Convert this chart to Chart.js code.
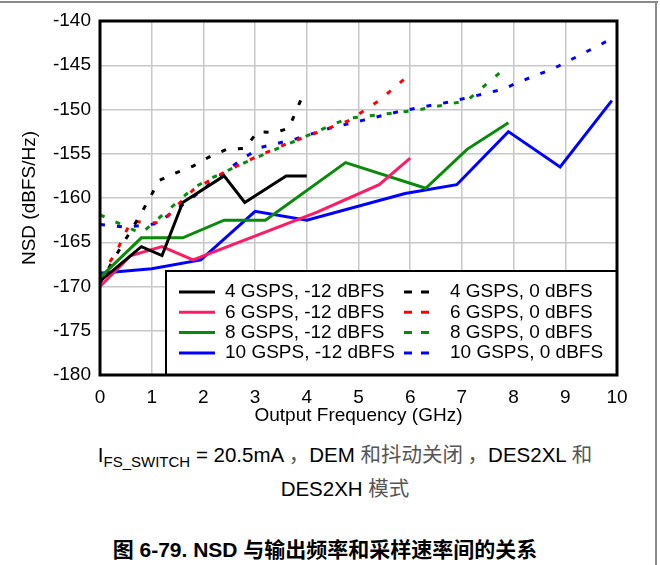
<!DOCTYPE html>
<html>
<head>
<meta charset="utf-8">
<script src="https://cdn.jsdelivr.net/npm/chart.js@4/dist/chart.umd.min.js"></script>
<style>
body { margin:0; background:#fff; width:660px; height:565px; overflow:hidden; position:relative; font-family: Arial, "Liberation Sans", sans-serif; }
#chart1 { position:absolute; left:0; top:0; }
.edge-top { position:absolute; left:0; top:1px; width:658px; height:2px; background:#8a8a8a; }
.edge-right { position:absolute; left:655px; top:1px; width:2px; height:564px; background:#8a8a8a; }
.cap { position:absolute; left:20px; width:650px; text-align:center; font-size:20.5px; color:#000; line-height:24px; white-space:pre; }
.zh { font-family: "Noto Sans CJK SC", sans-serif; color:#555; }
.cap sub { font-size:15px; vertical-align:-5px; line-height:0; }
.title { position:absolute; left:0; width:650px; text-align:center; font-size:21px; font-weight:bold; top:535px; line-height:26px; }
.title .zh { color:#000; }
</style>
</head>
<body>
<div class="edge-top"></div>
<div class="edge-right"></div>
<canvas id="chart1" width="660" height="430"></canvas>
<div class="cap" style="top:441px">I<sub>FS_SWITCH</sub> = 20.5mA <span class="zh">，</span>DEM <span class="zh">和抖动关闭 ，</span>DES2XL <span class="zh">和</span></div>
<div class="cap" style="top:475px">DES2XH <span class="zh">模式</span></div>
<div class="title"><span class="zh">图</span> 6-79. NSD <span class="zh">与输出频率和采样速率间的关系</span></div>
<script>
// axis ticks
const xTicks = [0, 1, 2, 3, 4, 5, 6, 7, 8, 9, 10];
const yTicks = [-180, -175, -170, -165, -160, -155, -150, -145, -140];

// -12 dBFS (solid)
const f4Low = [0, 0.8, 1.2, 1.6, 2.4, 2.8, 3.6, 4.0];
const nsd4Low = [-169.4, -165.5, -166.5, -160.5, -157.5, -160.5, -157.5, -157.5];
const f6Low = [0, 0.6, 1.2, 1.8, 4.2, 5.4, 6.0];
const nsd6Low = [-170, -166.5, -165.5, -167, -161.6, -158.5, -155.5];
const f8Low = [0, 0.8, 1.6, 2.4, 3.2, 4.75, 6.3, 7.1, 7.9];
const nsd8Low = [-169, -164.5, -164.5, -162.5, -162.5, -156, -158.9, -154.5, -151.5];
const f10Low = [0, 1, 1.95, 3, 4, 5.9, 6.9, 7.9, 8.9, 9.9];
const nsd10Low = [-168.5, -168, -167, -161.5, -162.5, -159.5, -158.5, -152.5, -156.5, -149];

// 0 dBFS (dashed)
const f4Full = [0, 0.4, 0.8, 1.15, 1.45, 1.8, 2.1, 2.45, 2.8, 3.05, 3.4, 3.65, 3.8, 3.95];
const nsd4Full = [-169.6, -165.6, -161.7, -158, -157.2, -156.4, -155.4, -154.5, -154.4, -152.5, -152.6, -152.1, -150.1, -148];
const f6Full = [0, 0.3, 0.6, 0.9, 1.2, 1.5, 1.8, 2.4, 3.0, 3.6, 4.2, 4.8, 5.4, 5.9];
const nsd6Full = [-168.8, -166.3, -162.6, -162.8, -162.8, -160.8, -159.1, -157.1, -155.4, -153.9, -152.6, -151.3, -149, -146.5];
const f8Full = [0, 0.8, 1.8, 2.1, 2.8, 3.8, 4.5, 4.8, 6.1, 7.1, 7.8];
const nsd8Full = [-161.9, -164, -158.9, -157.9, -156, -153.5, -151.7, -151, -150.1, -149, -145.5];
const f10Full = [0, 0.5, 1.1, 1.45, 1.8, 2.45, 2.8, 3.1, 3.8, 4.45, 5.1, 5.8, 6.8, 7.8, 8.1, 8.8, 9.8];
const nsd10Full = [-163, -163.3, -162.9, -161.4, -159.9, -156.9, -155.4, -154.3, -153.3, -152.1, -151.2, -150.2, -149.1, -147.7, -146.9, -145.3, -142.3];

const labels = ['4 GSPS, -12 dBFS', '6 GSPS, -12 dBFS', '8 GSPS, -12 dBFS', '10 GSPS, -12 dBFS',
                '4 GSPS, 0 dBFS', '6 GSPS, 0 dBFS', '8 GSPS, 0 dBFS', '10 GSPS, 0 dBFS'];

function pts(xs, ys) {
    return xs.map(function (x, i) { return { x: x, y: ys[i] }; });
}

function line(label, xs, ys, color, dashed) {
    return {
        label: label,
        data: pts(xs, ys),
        borderColor: color,
        backgroundColor: color,
        borderWidth: 3,
        borderDash: dashed ? [5, 12] : [],
        pointRadius: 0,
        tension: 0,
        fill: false
    };
}

// legend box + plot frame
const framePlugin = {
    id: 'frame',
    afterDatasetsDraw: function (chart) {
        const ctx = chart.ctx;
        const a = chart.chartArea;
        const sets = chart.data.datasets;
        ctx.save();
        ctx.fillStyle = '#fff';
        ctx.fillRect(166, 271, a.right - 166, a.bottom - 271);
        ctx.strokeStyle = '#000';
        ctx.lineWidth = 2;
        ctx.strokeRect(166, 271, a.right - 166, a.bottom - 271);

        ctx.font = '19px Arial, "Liberation Sans", sans-serif';
        ctx.textBaseline = 'middle';
        ctx.textAlign = 'left';
        for (let i = 0; i < 4; i++) {
            const y = 292 + i * 20.3;
            const s = sets[i], d = sets[i + 4];
            ctx.lineWidth = 3;
            ctx.setLineDash([]);
            ctx.strokeStyle = s.borderColor;
            ctx.beginPath(); ctx.moveTo(179, y); ctx.lineTo(215, y); ctx.stroke();
            ctx.fillStyle = '#000';
            ctx.fillText(s.label, 225, y);
            ctx.setLineDash([8, 9]);
            ctx.strokeStyle = d.borderColor;
            ctx.beginPath(); ctx.moveTo(404, y); ctx.lineTo(429, y); ctx.stroke();
            ctx.setLineDash([]);
            ctx.fillText(d.label, 450, y);
        }

        ctx.lineWidth = 3;
        ctx.strokeStyle = '#000';
        ctx.strokeRect(a.left, a.top, a.right - a.left, a.bottom - a.top);
        ctx.restore();
    }
};

window.onload = function () {

    Chart.defaults.font.family = 'Arial, "Liberation Sans", sans-serif';
    Chart.defaults.font.size = 19;
    Chart.defaults.color = '#000';

    let chart1 = document.getElementById('chart1').getContext('2d');

    let nsdChart = new Chart(chart1, {
        type: 'line',
        data: {
            datasets: [
                line(labels[0], f4Low, nsd4Low, '#000000', false),
                line(labels[1], f6Low, nsd6Low, '#ff1a66', false),
                line(labels[2], f8Low, nsd8Low, '#0a8a0a', false),
                line(labels[3], f10Low, nsd10Low, '#0000ff', false),
                line(labels[4], f4Full, nsd4Full, '#000000', true),
                line(labels[5], f6Full, nsd6Full, '#ff0000', true),
                line(labels[6], f8Full, nsd8Full, '#0a8a0a', true),
                line(labels[7], f10Full, nsd10Full, '#0000ff', true)
            ]
        },
        options: {
            responsive: false,
            animation: false,
            layout: { padding: { top: 21, right: 43, left: 0, bottom: 0 } },
            plugins: { legend: { display: false }, tooltip: { enabled: false } },
            scales: {
                x: {
                    type: 'linear',
                    min: 0, max: 10,
                    afterBuildTicks: function (s) { s.ticks = xTicks.map(function (v) { return { value: v }; }); },
                    afterFit: function (s) { s.height = 55; },
                    grid: { color: '#c8c8c8', lineWidth: 1.5, drawTicks: false },
                    border: { display: false },
                    ticks: { padding: 11, maxRotation: 0 },
                    title: { display: true, text: 'Output Frequency (GHz)', padding: { top: 0, bottom: 3 } }
                },
                y: {
                    type: 'linear',
                    min: -180, max: -140,
                    afterBuildTicks: function (s) { s.ticks = yTicks.map(function (v) { return { value: v }; }); },
                    afterFit: function (s) { s.width = 100; },
                    grid: { color: '#c8c8c8', lineWidth: 1.5, drawTicks: false },
                    border: { display: false },
                    ticks: { padding: 9 },
                    title: { display: true, text: 'NSD (dBFS/Hz)', padding: { top: 18, bottom: 0 } }
                }
            }
        },
        plugins: [framePlugin]
    });
}
</script>
</body>
</html>
